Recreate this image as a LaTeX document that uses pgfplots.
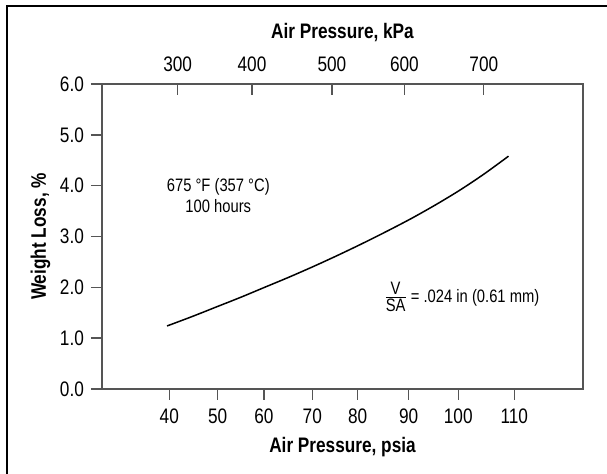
\documentclass[border=0pt]{standalone}
\usepackage{fontspec}
\setmainfont{Liberation Sans}[FakeStretch=0.82]
\usepackage{pgfplots}
\usepackage{pgfplotstable}
\pgfplotsset{compat=1.18}

\definecolor{axisgray}{HTML}{555555}

% weight loss vs air pressure (psia)
\pgfplotstableread{
psia loss
40  1.24
45  1.42
50  1.61
55  1.80
60  2.00
65  2.20
70  2.41
75  2.63
80  2.86
85  3.10
90  3.35
95  3.62
100 3.91
105 4.23
110 4.58
}\losstable

\newcommand{\ticksize}{\fontsize{10.5}{12}\selectfont}
\newcommand{\notesize}{\fontsize{9}{10.5}\selectfont}

\begin{document}
\begin{tikzpicture}
\pgfplotsset{
  chartbase/.style={
    scale only axis,
    width=240.5pt, height=152.5pt,
    at={(0,0)}, anchor=south west,
    xmin=26.66, xmax=125.27,
    ymin=0, ymax=6,
    axis line style={axisgray, line width=0.7pt},
    major tick style={axisgray, line width=0.7pt},
    major tick length=5.5pt,
    tick label style={font=\ticksize},
    label style={font=\ticksize\bfseries},
    /pgf/number format/assume math mode=true,
  }
}
\begin{axis}[
  chartbase,
  tick align=outside,
  xtick pos=bottom, ytick pos=left,
  xtick={40.46,50.38,59.87,69.77,79.08,89.53,99.70,111.18},
  xticklabels={40,50,60,70,80,90,100,110},
  ytick={0,1,2,3,4,5,6},
  yticklabel style={/pgf/number format/.cd, fixed, fixed zerofill, precision=1},
  xlabel={Air Pressure, psia},
  ylabel={Weight Loss, \%},
  xticklabel style={yshift=-1pt},
  ylabel style={yshift=-2pt},
]
\addplot[black, line width=0.75pt, smooth] table[x=psia, y=loss] {\losstable};
\node[font=\notesize, align=center] at (axis cs:50.5,3.8) {675 °F (357 °C)\\100 hours};
\node[font=\notesize, anchor=west, inner sep=0pt] at (axis cs:84.27,1.81)
  {$\frac{\mbox{V}}{\mbox{SA}}$\,= .024 in (0.61 mm)};
\end{axis}
\begin{axis}[
  chartbase,
  axis x line*=top, axis y line=none,
  tick align=inside,
  xtick={42.18,57.41,73.79,88.65,104.93},
  xticklabels={300,400,500,600,700},
  xticklabel style={yshift=2.5pt},
  xlabel={Air Pressure, kPa},
  xlabel style={yshift=1pt},
  ytick=\empty,
]
\addplot[draw=none] coordinates {(40,1) (110,4)};
\end{axis}
\path[use as bounding box] (-51pt,-42.5pt) rectangle (252.5pt,194.5pt);
\draw[black, line width=1.1pt] (-47.5pt,-42.5pt) -- (-47.5pt,191.5pt) -- (252.5pt,191.5pt);
\end{tikzpicture}
\end{document}
